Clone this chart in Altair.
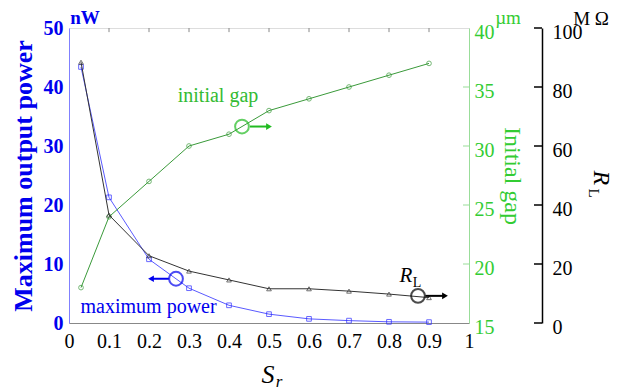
import altair as alt
import pandas as pd

# ---------------- data ----------------
sr = [0.03, 0.1, 0.2, 0.3, 0.4, 0.5, 0.6, 0.7, 0.8, 0.9]
power_nw = [43.4, 21.3, 10.8, 5.9, 3.0, 1.5, 0.7, 0.4, 0.2, 0.15]
gap_um = [18.0, 24.0, 27.0, 30.0, 31.0, 33.0, 34.0, 35.0, 36.0, 37.0]
rl_mohm = [88.4, 36.6, 22.8, 17.6, 14.6, 11.6, 11.6, 10.8, 9.8, 8.6]

x_ticks = [0, 0.1, 0.2, 0.3, 0.4, 0.5, 0.6, 0.7, 0.8, 0.9, 1]
power_ticks = [0, 10, 20, 30, 40, 50]
gap_ticks = [15, 20, 25, 30, 35, 40]
rl_ticks = [0, 20, 40, 60, 80, 100]

df = pd.DataFrame({"sr": sr, "power": power_nw, "gap": gap_um, "rl": rl_mohm})

SERIF = "Liberation Serif, Times New Roman, serif"
BLUE = "#0000ee"
BLUE_LINE = "#5a5aff"
GREEN = "#33cc33"
GREEN_LINE = "#3a9a3a"
BLACK = "#000000"

P_DOM = [0, 50]
G_DOM = [15, 40]
R_DOM = [0, 100]

x_axis = alt.Axis(
    orient="bottom", values=x_ticks, format="~g", ticks=False,
    domainColor="#888888", labelColor=BLACK, labelFont=SERIF, labelFontSize=20,
    labelPadding=8, labelFlush=False, labelOverlap=False, title=None, grid=False)


def xs():
    return alt.Scale(domain=[0, 1], nice=False, zero=False)


def ys(dom):
    return alt.Scale(domain=dom, nice=False, zero=False)


def X(field):
    return alt.X(field, scale=xs(), axis=x_axis)


def Y(field, dom, axis=None):
    return alt.Y(field, scale=ys(dom), axis=axis)


def txt(text, x, y, color, size, style="normal", weight="normal", angle=0, dom=P_DOM):
    d = pd.DataFrame({"x": [x], "y": [y], "t": [text]})
    return alt.Chart(d).mark_text(
        font=SERIF, fontSize=size, color=color, fontStyle=style,
        fontWeight=weight, angle=angle, align="center", baseline="middle"
    ).encode(x=X("x:Q"), y=Y("y:Q", dom), text="t:N")


def circle(x, y, color, dom=P_DOM):
    d = pd.DataFrame({"x": [x], "y": [y]})
    return alt.Chart(d).mark_point(
        shape="circle", filled=False, color=color, size=190, strokeWidth=2
    ).encode(x=X("x:Q"), y=Y("y:Q", dom))


def arrow(x1, x2, y, color, head, dom=P_DOM):
    d = pd.DataFrame({"x": [x1], "x2": [x2], "y": [y]})
    line = alt.Chart(d).mark_rule(color=color, strokeWidth=2).encode(
        x=X("x:Q"), x2="x2:Q", y=Y("y:Q", dom))
    hd = pd.DataFrame({"x": [x2], "y": [y]})
    tip = alt.Chart(hd).mark_point(
        shape=head, filled=True, color=color, size=45, opacity=1
    ).encode(x=X("x:Q"), y=Y("y:Q", dom))
    return [line, tip]


# ---------------- y axes ----------------
p_axis = alt.Axis(
    orient="left", values=power_ticks, ticks=False, domainColor="#8080ff",
    labelColor=BLUE, labelFont=SERIF, labelFontSize=20, labelFontWeight="bold",
    labelPadding=6, title="Maximum output power", titleColor=BLUE, titleFont=SERIF,
    titleFontSize=26, titleFontWeight="bold", titlePadding=7, grid=False)
g_axis = alt.Axis(
    orient="right", values=gap_ticks, ticks=False, domainColor="#99dd99",
    labelColor=GREEN, labelFont=SERIF, labelFontSize=20, labelPadding=5,
    labelOffset=4,
    title="Initial gap", titleColor=GREEN, titleFont=SERIF, titleFontSize=24,
    titleFontWeight="normal", titlePadding=5, grid=False)
r_axis = alt.Axis(
    orient="right", offset=73, values=rl_ticks, ticks=False, domainColor=BLACK,
    domainWidth=1.5, labelColor=BLACK, labelFont=SERIF, labelFontSize=20,
    labelPadding=10, labelOffset=4, title=None, grid=False)

# ---------------- series ----------------
p_line = alt.Chart(df).mark_line(color=BLUE_LINE, strokeWidth=1).encode(
    x=X("sr:Q"), y=Y("power:Q", P_DOM, p_axis))
p_pts = alt.Chart(df).mark_point(
    shape="square", filled=False, color="#2a2aff", size=22, strokeWidth=1
).encode(x=X("sr:Q"), y=Y("power:Q", P_DOM))

g_line = alt.Chart(df).mark_line(color=GREEN_LINE, strokeWidth=1).encode(
    x=X("sr:Q"), y=Y("gap:Q", G_DOM, g_axis))
g_pts = alt.Chart(df).mark_point(
    shape="circle", filled=False, color=GREEN_LINE, size=22, strokeWidth=1
).encode(x=X("sr:Q"), y=Y("gap:Q", G_DOM))

r_line = alt.Chart(df).mark_line(color="#333333", strokeWidth=1).encode(
    x=X("sr:Q"), y=Y("rl:Q", R_DOM, r_axis))
r_pts = alt.Chart(df).mark_point(
    shape="triangle-up", filled=False, color="#333333", size=22, strokeWidth=1
).encode(x=X("sr:Q"), y=Y("rl:Q", R_DOM))

# ---------------- tick marks drawn inward ----------------
top_ticks = pd.DataFrame({"x": x_ticks[1:-1], "y": [50] * 9, "y2": [49.3] * 9})
p_top = alt.Chart(top_ticks).mark_rule(color="#888888", strokeWidth=1).encode(
    x=X("x:Q"), y=Y("y:Q", P_DOM), y2="y2:Q")
g_tick_df = pd.DataFrame({"x": [0.985] * 4, "x2": [1.0] * 4, "y": gap_ticks[1:-1]})
g_ticks = alt.Chart(g_tick_df).mark_rule(color="#99dd99", strokeWidth=1).encode(
    x=X("x:Q"), x2="x2:Q", y=Y("y:Q", G_DOM))
r_tick_df = pd.DataFrame({"x": [1.1625] * 6, "x2": [1.1825] * 6, "y": rl_ticks})
r_ticks = alt.Chart(r_tick_df).mark_rule(color=BLACK, strokeWidth=1.5).encode(
    x=X("x:Q"), x2="x2:Q", y=Y("y:Q", R_DOM))

layers = [
    p_line, p_pts, p_top,
    g_line, g_pts, g_ticks,
    r_line, r_pts, r_ticks,
    txt("initial gap", 0.3725, 38.4, "#33bb33", 20),
    circle(0.4325, 33.3, "#22bb22"),
    *arrow(0.4525, 0.50, 33.3, "#22bb22", "triangle-right"),
    txt("maximum power", 0.199, 2.7, BLUE, 20),
    circle(0.2675, 7.5, BLUE),
    *arrow(0.2495, 0.205, 7.5, BLUE, "triangle-left"),
    txt("R", 0.8425, 8.0, BLACK, 21, style="italic"),
    txt("L", 0.8700, 6.8, BLACK, 14),
    circle(0.8725, 4.6, BLACK),
    *arrow(0.891, 0.94, 4.6, BLACK, "triangle-right"),
    txt("S", 0.4975, -8.8, BLACK, 26, style="italic"),
    txt("r", 0.525, -10.0, BLACK, 17, style="italic"),
    txt("nW", 0.04, 51.7, BLUE, 19, weight="bold"),
    txt("µm", 1.0975, 51.7, GREEN, 19),
    txt("M Ω", 1.305, 51.45, BLACK, 19),
    txt("R", 1.33, 24.6, BLACK, 24, style="italic", angle=90),
    txt("L", 1.3125, 22.0, BLACK, 15, angle=90),
]

chart = alt.layer(*layers).resolve_scale(y="independent").properties(
    width=400, height=295,
    autosize=alt.AutoSizeParams(type="none"),
    padding={"left": 61, "top": 20, "right": 150, "bottom": 70},
).configure_view(stroke="#888888", strokeWidth=1).configure(background="white")

chart.save("out.html", embed_options={"renderer": "svg", "actions": False})
